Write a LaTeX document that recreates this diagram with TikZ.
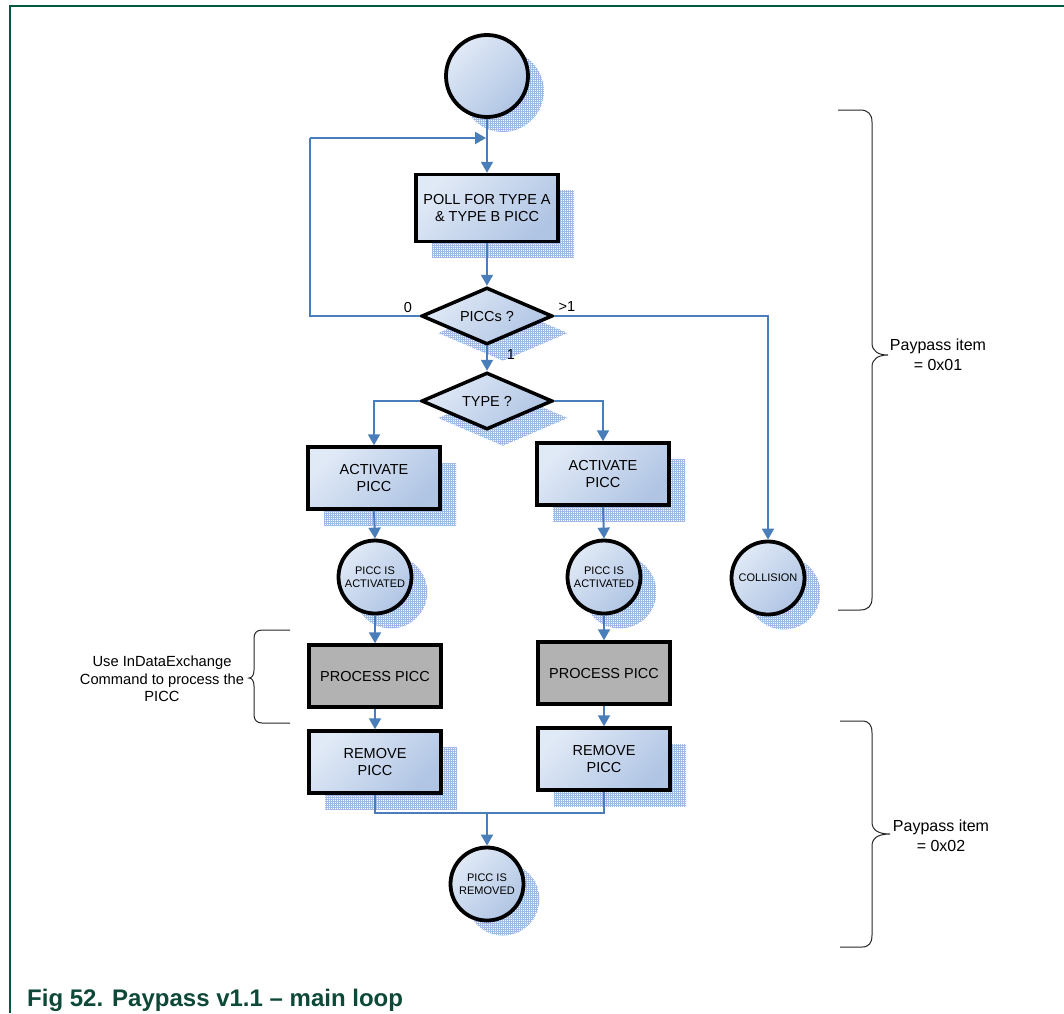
\documentclass[tikz,border=0pt]{standalone}
\usepackage{fontspec}
\setmainfont{Liberation Sans}
\usetikzlibrary{shapes.geometric,arrows.meta,patterns.meta,shadows}

\definecolor{lblue}{RGB}{74,126,187}
\definecolor{flight}{RGB}{224,233,246}
\definecolor{fdark}{RGB}{176,197,228}
\definecolor{shcol}{RGB}{160,186,230}
\definecolor{grn}{RGB}{0,90,66}
\definecolor{capgreen}{RGB}{14,72,56}
\definecolor{procgray}{RGB}{178,178,178}

\tikzset{
  shd/.style={general shadow={pattern={Hatch[angle=0,distance=2pt,line width=0.5pt]}, pattern color=shcol, shadow xshift=16pt, shadow yshift=-#1pt}},
  shd/.default=16,
  nodefill/.style={top color=flight, bottom color=fdark, shading angle=45},
  box/.style={rectangle, draw=black, line width=3.5pt, minimum width=132pt, minimum height=62pt, inner sep=0pt, align=center, font=\fontsize{14.5}{17}\selectfont, shd, nodefill},
  pbox/.style={rectangle, draw=black, line width=3.5pt, minimum width=132pt, minimum height=62pt, inner sep=0pt, align=center, font=\fontsize{14.5}{17}\selectfont, fill=procgray},
  circ/.style={circle, draw=black, line width=3.8pt, minimum size=73pt, inner sep=0pt, align=center, font=\fontsize{11}{13.5}\selectfont, shd=15, nodefill},
  dia/.style={diamond, draw=black, line width=3.5pt, minimum width=131pt, minimum height=57pt, aspect=2.3, inner sep=0pt, font=\fontsize{14.5}{17}\selectfont, shd=17, nodefill},
  ln/.style={draw=lblue, line width=2pt},
  arr/.style={draw=lblue, line width=2pt, -{Triangle[length=11pt,width=12pt]}},
  lbl/.style={inner sep=0pt, font=\fontsize{14.5}{17}\selectfont},
  brtext/.style={inner sep=0pt, align=center},
  br/.style={draw=black!85, line width=1pt},
}

\begin{document}
\begin{tikzpicture}[x=1pt,y=-1pt]
\useasboundingbox (0,0) rectangle (1064,1013);

% page frame
\draw[grn, line width=1.8pt] (10,1013) -- (10,6) -- (1064,6);

% nodes
\node[circ, minimum size=82pt] (start) at (487,76) {};
\node[box, minimum width=142pt, minimum height=67pt] (poll) at (487,208) {POLL FOR TYPE A\\\& TYPE B PICC};
\node[dia] (picc) at (487,316) {PICCs ?};
\node[dia] (type) at (487,401) {TYPE ?};
\node[box] (act1) at (374,478) {ACTIVATE\\PICC};
\node[box] (act2) at (603,474) {ACTIVATE\\PICC};
\node[circ] (acd1) at (375,577) {PICC IS\\ACTIVATED};
\node[circ] (acd2) at (604,577) {PICC IS\\ACTIVATED};
\node[circ] (coll) at (768,578) {COLLISION};
\node[pbox] (proc1) at (375,676) {PROCESS PICC};
\node[pbox] (proc2) at (604,673) {PROCESS PICC};
\node[box] (rem1) at (375,762) {REMOVE\\PICC};
\node[box] (rem2) at (604,759) {REMOVE\\PICC};
\node[circ] (removed) at (487,884) {PICC IS\\REMOVED};

% edge labels
\node[lbl] (l0) at (408,307) {0};
\node[lbl] (lgt) at (567,307) {>1};
\node[lbl] (l1) at (511,355) {1};

% coordinates
\coordinate (loopin) at (486,138);
\coordinate (lc) at (310,138);
\coordinate (mj) at (487,813);

% connectors
\draw[arr] (start.south) -- (poll.north);
\draw[ln] (picc.west) -| (lc);
\draw[arr] (lc) -- (loopin);
\draw[arr] (poll.south) -- (picc.north);
\draw[arr] (picc.south) -- (type.north);
\draw[arr] (picc.east) -| (coll.north);
\draw[arr] (type.west) -| (act1.north);
\draw[arr] (type.east) -| (act2.north);
\draw[arr] (act1.south) -- (acd1.north);
\draw[arr] (act2.south) -- (acd2.north);
\draw[arr] (acd1.south) -- (proc1.north);
\draw[arr] (acd2.south) -- (proc2.north);
\draw[arr] (proc1.south) -- (rem1.north);
\draw[arr] (proc2.south) -- (rem2.north);
\draw[ln] (rem1.south) |- (mj) -| (rem2.south);
\draw[arr] (mj) -- (removed.north);

% braces
\draw[br] (838,110) -- (860,110) .. controls (868,110) and (872,114) .. (872,122)
  -- (872,343) .. controls (872,351) and (878,355) .. (888,355)
  .. controls (878,355) and (872,359) .. (872,367)
  -- (872,598) .. controls (872,606) and (868,610) .. (860,610) -- (838,610);
\node[brtext, font=\fontsize{16}{20}\selectfont] (pp1) at (938,355) {Paypass item\\= 0x01};

\draw[br] (840,721) -- (862,721) .. controls (869,721) and (872,725) .. (872,733)
  -- (872,822) .. controls (872,830) and (878,834) .. (890,834)
  .. controls (878,834) and (872,838) .. (872,846)
  -- (872,935) .. controls (872,943) and (869,947) .. (862,947) -- (840,947);
\node[brtext, font=\fontsize{16}{20}\selectfont] (pp2) at (941,836) {Paypass item\\= 0x02};

\draw[br] (290,630) -- (262,630) .. controls (257,630) and (254,633) .. (254,638)
  -- (254,670) .. controls (254,675) and (252,678) .. (249,678)
  .. controls (252,678) and (254,681) .. (254,686)
  -- (254,715) .. controls (254,720) and (257,723) .. (262,723) -- (290,723);
\node[brtext, font=\fontsize{14.7}{17.5}\selectfont] (note) at (162,679) {Use InDataExchange\\Command to process the\\PICC};

% caption
\node[anchor=base west, inner sep=0pt, text=capgreen, font=\bfseries\fontsize{24}{28}\selectfont] (cap) at (27,1006) {Fig 52.\hspace{9pt}Paypass v1.1 – main loop};
\end{tikzpicture}
\end{document}
